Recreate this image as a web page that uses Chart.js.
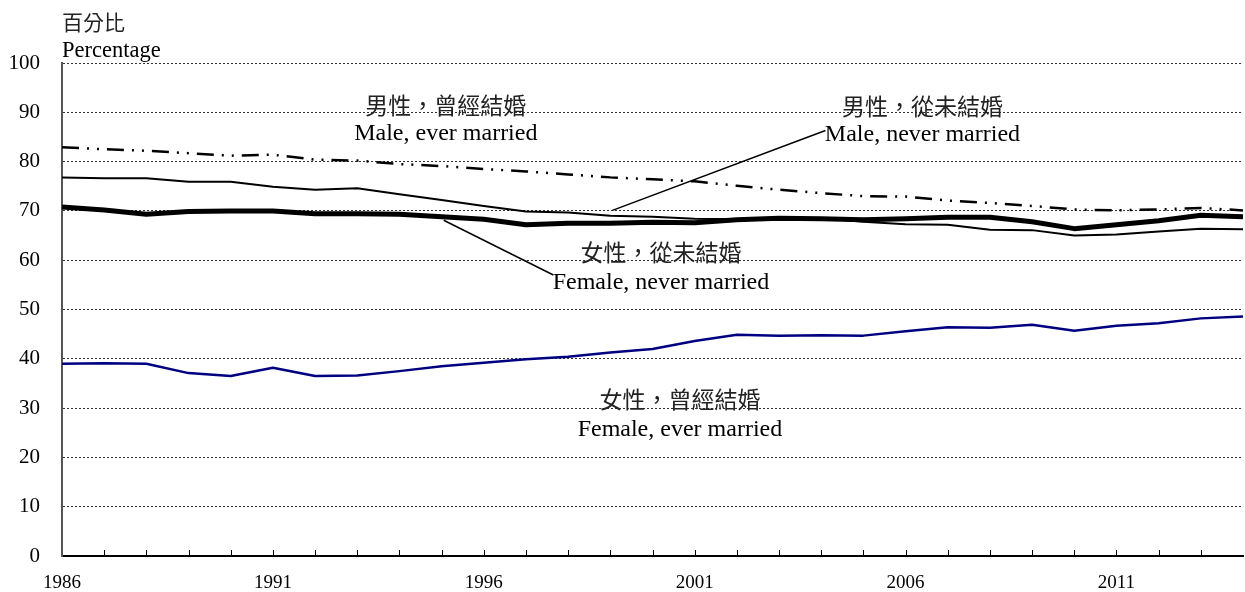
<!DOCTYPE html>
<html>
<head>
<meta charset="utf-8">
<script src="https://cdn.jsdelivr.net/npm/chart.js@4.4.3/dist/chart.umd.min.js"></script>
<style>
  html, body { margin: 0; padding: 0; background: #fff; }
  #wrap { width: 1245px; height: 592px; position: relative; }
</style>
</head>
<body>
<div id="wrap"><canvas id="c"></canvas></div>
<script>
// ---------- 數據 ----------
const years = ["1986","1987","1988","1989","1990","1991","1992","1993","1994","1995",
  "1996","1997","1998","1999","2000","2001","2002","2003","2004","2005",
  "2006","2007","2008","2009","2010","2011","2012","2013","2014"];

const maleEverMarried = [82.9, 82.5, 82.2, 81.7, 81.2, 81.4, 80.4, 80.2, 79.5, 79.1,
  78.5, 78.0, 77.4, 76.8, 76.4, 76.0, 75.1, 74.3, 73.6, 73.0,
  72.9, 72.1, 71.6, 71.0, 70.3, 70.1, 70.3, 70.6, 70.1];
const maleNeverMarried = [76.8, 76.6, 76.6, 75.9, 75.9, 74.9, 74.3, 74.6, 73.4, 72.2,
  71.0, 69.9, 69.7, 69.0, 68.8, 68.4, 68.3, 68.6, 68.5, 67.8,
  67.3, 67.2, 66.2, 66.1, 65.0, 65.2, 65.8, 66.4, 66.3];
const femaleNeverMarried = [70.8, 70.2, 69.3, 69.9, 70.0, 70.0, 69.4, 69.4, 69.3, 68.8,
  68.3, 67.2, 67.5, 67.5, 67.7, 67.6, 68.2, 68.5, 68.4, 68.2,
  68.4, 68.7, 68.7, 67.8, 66.4, 67.2, 68.0, 69.1, 68.8];
const femaleEverMarried = [39.0, 39.1, 39.0, 37.1, 36.5, 38.2, 36.5, 36.6, 37.5, 38.5,
  39.2, 39.9, 40.4, 41.3, 42.0, 43.6, 44.9, 44.7, 44.8, 44.7,
  45.6, 46.4, 46.3, 46.9, 45.7, 46.7, 47.2, 48.2, 48.6];

// 標註文字（以年份 / 百分比座標定位）
const seriesNotes = [
  { zh: "男性，曾經結婚", en: "Male, ever married",    year: 1995.1, zhY: 91.4, enY: 85.6 },
  { zh: "男性，從未結婚", en: "Male, never married",   year: 2006.4, zhY: 91.2, enY: 85.4,
    lead: [[1999.05, 70.1], [2004.1, 86.3]] },
  { zh: "女性，從未結婚", en: "Female, never married", year: 2000.2, zhY: 61.6, enY: 55.4,
    lead: [[1995.05, 68.1], [1997.65, 57.0]] },
  { zh: "女性，曾經結婚", en: "Female, ever married",  year: 2000.65, zhY: 31.8, enY: 25.7 },
];

const SERIF = "'Liberation Serif', 'Times New Roman', serif";
const CJK = "'Noto Sans CJK TC', 'Noto Sans CJK SC', sans-serif";

// ---------- 標註與刻度 ----------
const notesPlugin = {
  id: "notes",
  afterDraw(chart) {
    const { ctx, chartArea, scales: { x, y } } = chart;
    const step = x.getPixelForValue(1) - x.getPixelForValue(0);
    const px = (yr) => x.getPixelForValue(0) + (yr - 1986) * step;

    ctx.save();
    // x 軸向上小刻度
    ctx.strokeStyle = "#000";
    ctx.lineWidth = 1;
    ctx.beginPath();
    for (let i = 1; i < years.length - 1; i++) {
      const xx = Math.round(x.getPixelForValue(i)) + 0.5;
      ctx.moveTo(xx, chartArea.bottom);
      ctx.lineTo(xx, chartArea.bottom - 6);
    }
    ctx.stroke();

    // 軸標題
    ctx.fillStyle = "#222";
    ctx.textAlign = "left";
    ctx.textBaseline = "middle";
    ctx.font = "21px " + CJK;
    ctx.fillText("百分比", chartArea.left, 22);
    ctx.fillStyle = "#000";
    ctx.textBaseline = "alphabetic";
    ctx.font = "22.5px " + SERIF;
    ctx.fillText("Percentage", chartArea.left, 57);

    // 系列標註
    ctx.textAlign = "center";
    ctx.textBaseline = "middle";
    seriesNotes.forEach((n) => {
      ctx.fillStyle = "#222";
      ctx.font = "23px " + CJK;
      ctx.fillText(n.zh, px(n.year), y.getPixelForValue(n.zhY));
      ctx.fillStyle = "#000";
      ctx.font = "24px " + SERIF;
      ctx.fillText(n.en, px(n.year), y.getPixelForValue(n.enY));
      if (n.lead) {
        ctx.strokeStyle = "#000";
        ctx.lineWidth = 1.5;
        ctx.beginPath();
        ctx.moveTo(px(n.lead[0][0]), y.getPixelForValue(n.lead[0][1]));
        ctx.lineTo(px(n.lead[1][0]), y.getPixelForValue(n.lead[1][1]));
        ctx.stroke();
      }
    });
    ctx.restore();
  },
};

new Chart(document.getElementById("c"), {
  type: "line",
  data: {
    labels: years,
    datasets: [
      {
        label: "女性，曾經結婚 Female, ever married",
        data: femaleEverMarried,
        borderColor: "#000080",
        borderWidth: 2.5,
      },
      {
        label: "男性，曾經結婚 Male, ever married",
        data: maleEverMarried,
        borderColor: "#000",
        borderWidth: 2.5,
        borderDash: [17, 8, 2, 8, 2, 8],
      },
      {
        label: "女性，從未結婚 Female, never married",
        data: femaleNeverMarried,
        borderColor: "#000",
        borderWidth: 5,
      },
      {
        label: "男性，從未結婚 Male, never married",
        data: maleNeverMarried,
        borderColor: "#000",
        borderWidth: 2,
      },
    ],
  },
  options: {
    responsive: true,
    maintainAspectRatio: false,
    animation: false,
    elements: { point: { radius: 0 }, line: { tension: 0, borderJoinStyle: "round", fill: false } },
    layout: { padding: { top: 63, right: 2, left: 0, bottom: 0 } },
    plugins: { legend: { display: false }, tooltip: { enabled: false } },
    scales: {
      x: {
        offset: false,
        grid: { display: false },
        border: { display: true, color: "#000", width: 2 },
        ticks: {
          autoSkip: false,
          maxRotation: 0,
          padding: 8,
          color: "#000",
          font: { family: SERIF, size: 19 },
          callback: (v, i) => (i % 5 === 0 ? years[i] : ""),
        },
        afterFit: (s) => { s.height = 36; s.paddingLeft = 0; s.paddingRight = 0; },
      },
      y: {
        min: 0,
        max: 100,
        grid: {
          drawTicks: false,
          lineWidth: 1,
          color: (c) => (c.tick && c.tick.value === 0 ? "rgba(0,0,0,0)" : "#333"),
        },
        border: { display: true, color: "#555", width: 2, dash: [2, 2] },
        ticks: {
          stepSize: 10,
          padding: 22,
          color: "#000",
          font: { family: SERIF, size: 21 },
        },
        afterFit: (s) => { s.width = 62; },
      },
    },
  },
  plugins: [notesPlugin],
});
</script>
</body>
</html>
